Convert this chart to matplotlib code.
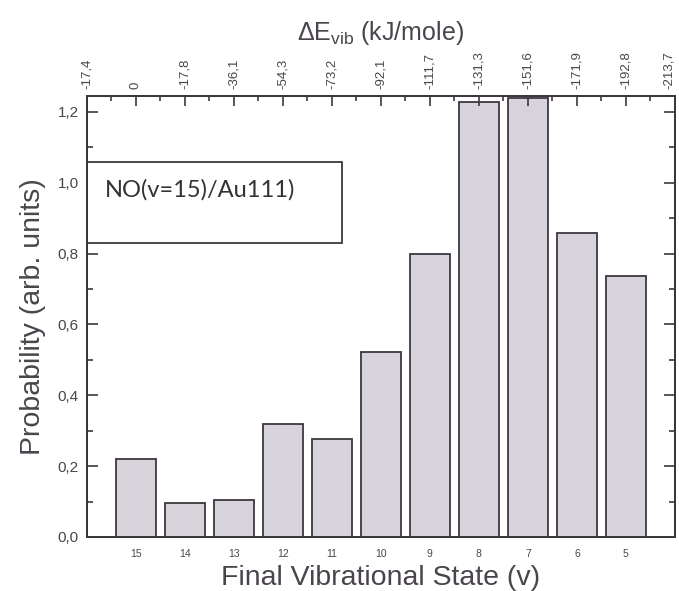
import numpy as np
import matplotlib.pyplot as plt
from matplotlib import rcParams
from matplotlib.patches import Rectangle
from matplotlib.ticker import FixedLocator, MultipleLocator, FuncFormatter

rcParams.update({'font.family': 'Liberation Sans',
                 'mathtext.fontset': 'custom',
                 'mathtext.rm': 'Liberation Sans',
                 'mathtext.it': 'Liberation Sans:italic'})

# final vibrational state v and probability
states = [15, 14, 13, 12, 11, 10, 9, 8, 7, 6, 5]
prob = [0.22, 0.095, 0.103, 0.32, 0.277, 0.522, 0.798, 1.227, 1.240, 0.858, 0.736]

# top axis: vibrational energy change at v = 16 ... 4
top_states = [16, 15, 14, 13, 12, 11, 10, 9, 8, 7, 6, 5, 4]
top_labels = ['-17,4', '0', '-17,8', '-36,1', '-54,3', '-73,2', '-92,1',
              '-111,7', '-131,3', '-151,6', '-171,9', '-192,8', '-213,7']

INK = '#3e363f'
TXT = '#4a444c'
BAR = '#d6d3da'

fig = plt.figure(figsize=(6.79, 5.91), dpi=100)
ax = fig.add_axes([0.128, 0.0914, 0.866, 0.7462])

ax.bar(states, prob, width=0.82, color=BAR, edgecolor=INK, lw=1.3, zorder=2)

ax.set_xlim(16, 4)
ax.set_ylim(0, 1.245)

ax.set_xticks(states)
ax.set_xticklabels([str(s) for s in states], fontsize=7.5, color=TXT)
ax.tick_params(axis='x', length=0, pad=9)

ax.yaxis.set_major_locator(MultipleLocator(0.2))
ax.yaxis.set_minor_locator(MultipleLocator(0.1))
ax.yaxis.set_major_formatter(FuncFormatter(lambda y, p: ('%.1f' % y).replace('.', ',')))
ax.tick_params(axis='y', which='major', direction='in', length=8, width=1.2,
               right=True, labelsize=11, labelcolor=TXT, color=INK, pad=6)
ax.tick_params(axis='y', which='minor', direction='in', length=4.5, width=1.2,
               right=True, color=INK)

for s in ax.spines.values():
    s.set_color(INK)
    s.set_linewidth(1.4)

ax.set_xlabel('Final Vibrational State (v)', fontsize=20.5, color=TXT, labelpad=4)
ax.set_ylabel('Probability (arb. units)', fontsize=20.5, color=TXT, labelpad=8)

# top energy axis
top = ax.twiny()
top.set_xlim(ax.get_xlim())
top.xaxis.set_major_locator(FixedLocator(top_states))
top.xaxis.set_minor_locator(FixedLocator(np.arange(15.5, 4, -1)))
top.set_xticklabels(top_labels, rotation=90, fontsize=9.5, color=TXT)
top.tick_params(axis='x', which='major', direction='in', length=7, width=1.2, color=INK, pad=5)
top.tick_params(axis='x', which='minor', direction='in', length=3.5, width=1.2, color=INK)
# last label sits on the right edge, keep it inside the figure
top.get_xticklabels()[-1].set_horizontalalignment('right')
for s in top.spines.values():
    s.set_color(INK)
    s.set_linewidth(1.4)
top.set_xlabel(r'$\Delta\mathrm{E}_{\mathrm{vib}}$ (kJ/mole)', fontsize=18, color=TXT, labelpad=8)

# label box
ax.add_patch(Rectangle((0, 0.667), 0.434, 0.183, transform=ax.transAxes,
                       facecolor='white', edgecolor=INK, lw=1.3, zorder=5, clip_on=False))
ax.text(0.031, 0.771, 'NO(v=15)/Au111)', transform=ax.transAxes, fontsize=17,
        family='Lato', color='#333', zorder=6)

fig.savefig('out.png', dpi=100)
